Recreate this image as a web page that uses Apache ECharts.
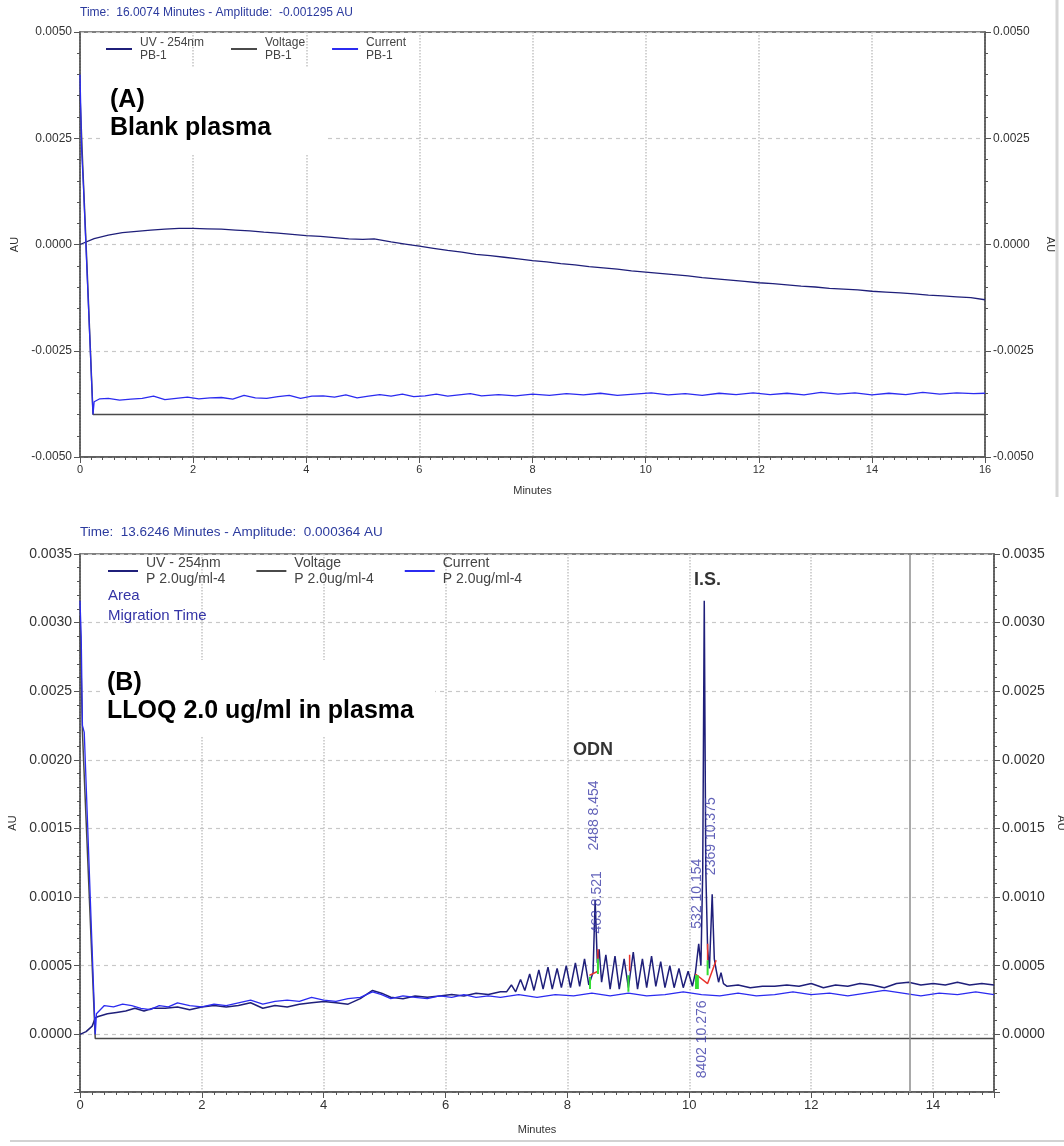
<!DOCTYPE html>
<html>
<head>
<meta charset="utf-8">
<title>Electropherogram</title>
<script src="https://cdn.jsdelivr.net/npm/echarts@6/dist/echarts.min.js"></script>
<style>
html, body { margin: 0; padding: 0; background: #fff; }
#main { width: 1064px; height: 1146px; }
</style>
</head>
<body>
<div id="main"></div>
<script>
//图A：空白血浆
var uvA = [[0,0],[0.25,0.00014],[0.5,0.00022],[0.75,0.00028],[1,0.00031],[1.25,0.00034],[1.5,0.00036],[1.75,0.00038],
  [2,0.00038],[2.25,0.00037],[2.5,0.00036],[2.75,0.00034],[3,0.00032],[3.25,0.00029],[3.5,0.00027],[3.75,0.00024],
  [4,0.00021],[4.25,0.00019],[4.5,0.00016],[4.75,0.00013],[5,0.00012],[5.2,0.00013],[5.5,0.00006],[5.75,0.00001],
  [6,-0.00004],[6.25,-0.00009],[6.5,-0.00014],[6.75,-0.00018],[7,-0.00023],[7.25,-0.00026],[7.5,-0.0003],[7.75,-0.00034],
  [8,-0.00038],[8.25,-0.00041],[8.5,-0.00045],[8.75,-0.00048],[9,-0.00052],[9.25,-0.00055],[9.5,-0.00058],[9.75,-0.00062],
  [10,-0.00065],[10.25,-0.00068],[10.5,-0.00071],[10.75,-0.00074],[11,-0.00078],[11.25,-0.00081],[11.5,-0.00084],[11.75,-0.00087],
  [12,-0.0009],[12.25,-0.00092],[12.5,-0.00095],[12.75,-0.00098],[13,-0.001],[13.25,-0.00103],[13.5,-0.00105],[13.75,-0.00107],
  [14,-0.0011],[14.25,-0.00112],[14.5,-0.00114],[14.75,-0.00116],[15,-0.00119],[15.25,-0.00121],[15.5,-0.00123],[15.75,-0.00125],[16,-0.0013]];
var voltageA = [[0,0.0035],[0.05,0.0018],[0.12,-0.0004],[0.23,-0.004],[16,-0.004]];
var currentA = [[0,0.004],[0.03,0.0022],[0.06,0.0014],[0.23,-0.004],[0.25,-0.0037],[0.35,-0.00363],[0.5,-0.00362],[0.7,-0.00366],
  [0.9,-0.00364],[1.1,-0.00362],[1.3,-0.00357],[1.5,-0.00365],[1.7,-0.00362],[1.9,-0.00359],[2.1,-0.00363],[2.3,-0.00361],
  [2.5,-0.0036],[2.7,-0.00364],[2.9,-0.00355],[3.1,-0.00361],[3.3,-0.00362],[3.5,-0.00358],[3.7,-0.00355],[3.9,-0.00362],
  [4.1,-0.00357],[4.3,-0.00356],[4.5,-0.00359],[4.7,-0.00354],[4.9,-0.00361],[5.1,-0.00357],[5.3,-0.00353],[5.5,-0.00357],
  [5.7,-0.00352],[5.9,-0.00358],[6.1,-0.00356],[6.3,-0.00352],[6.5,-0.00357],[6.7,-0.00354],[6.9,-0.00351],[7.1,-0.00356],
  [7.4,-0.00353],[7.7,-0.00356],[8,-0.00352],[8.3,-0.00355],[8.6,-0.00351],[8.9,-0.00354],[9.2,-0.0035],[9.5,-0.00355],
  [9.8,-0.00352],[10.1,-0.00349],[10.4,-0.00354],[10.7,-0.00351],[11,-0.00355],[11.3,-0.0035],[11.6,-0.00353],[11.9,-0.00349],
  [12.2,-0.00353],[12.5,-0.0035],[12.8,-0.00354],[13.1,-0.00348],[13.4,-0.00352],[13.7,-0.00349],[14,-0.00354],[14.3,-0.0035],
  [14.6,-0.00353],[14.9,-0.00348],[15.2,-0.00352],[15.5,-0.00349],[15.8,-0.00351],[16,-0.0035]];

//图B：LLOQ 2.0 ug/ml
var uvB = [[0,0],[0.1,0.00002],[0.2,0.00006],[0.25,0.00012],[0.3,0.00013],[0.45,0.00015],[0.6,0.00016],[0.75,0.00017],
  [0.9,0.00019],[1.05,0.00017],[1.2,0.00019],[1.4,0.00019],[1.6,0.0002],[1.8,0.00018],[2,0.0002],[2.2,0.00021],
  [2.4,0.0002],[2.6,0.00021],[2.8,0.00023],[3,0.00019],[3.2,0.00021],[3.4,0.0002],[3.6,0.00022],[3.8,0.00023],
  [4,0.00024],[4.2,0.00023],[4.4,0.00022],[4.6,0.00026],[4.8,0.00032],[4.95,0.0003],[5.1,0.00027],[5.3,0.00026],
  [5.5,0.00028],[5.7,0.00027],[5.9,0.00028],[6.1,0.00029],[6.3,0.00028],[6.5,0.0003],[6.7,0.00029],[6.9,0.00031],
  [7,0.00031],[7.08,0.00036],[7.15,0.00031],[7.23,0.0004],[7.3,0.00032],[7.38,0.00044],[7.45,0.00032],[7.53,0.00047],
  [7.6,0.00033],[7.68,0.00049],[7.75,0.00033],[7.83,0.00048],[7.9,0.00034],[7.98,0.0005],[8.05,0.00034],[8.13,0.00052],
  [8.2,0.00035],[8.28,0.00055],[8.35,0.00036],[8.42,0.00045],[8.454,0.00098],[8.49,0.00052],[8.52,0.00062],[8.56,0.00038],
  [8.63,0.00058],[8.7,0.00033],[8.78,0.00057],[8.85,0.00033],[8.93,0.00055],[9,0.00034],[9.08,0.0006],[9.15,0.00033],
  [9.23,0.00055],[9.3,0.00034],[9.38,0.00057],[9.45,0.00035],[9.53,0.00053],[9.6,0.00034],[9.68,0.0005],[9.75,0.00034],
  [9.83,0.00048],[9.9,0.00034],[9.98,0.00046],[10.05,0.00035],[10.1,0.00045],[10.154,0.00066],[10.19,0.0005],[10.22,0.0012],
  [10.245,0.00316],[10.27,0.0012],[10.3,0.00062],[10.33,0.00048],[10.375,0.00102],[10.41,0.00055],[10.44,0.00047],[10.48,0.00038],
  [10.52,0.00045],[10.56,0.00037],[10.62,0.00035],[10.8,0.00036],[11,0.00034],[11.2,0.00035],[11.4,0.00035],[11.6,0.00036],
  [11.8,0.00035],[12,0.00037],[12.2,0.00034],[12.4,0.00036],[12.6,0.00035],[12.8,0.00037],[13,0.00036],[13.2,0.00034],
  [13.4,0.00037],[13.6,0.00038],[13.8,0.00036],[14,0.00037],[14.2,0.00036],[14.4,0.00038],[14.6,0.00036],[14.8,0.00037],[15,0.00036]];
var voltageB = [[0,0.00305],[0.04,0.0022],[0.25,-0.00003],[15,-0.00003]];
var currentB = [[0,0.00316],[0.02,0.0029],[0.04,0.00225],[0.07,0.0022],[0.25,0],[0.27,0.00015],[0.3,0.00016],[0.4,0.00021],
  [0.55,0.0002],[0.7,0.00022],[0.85,0.00021],[1,0.00019],[1.15,0.00018],[1.3,0.00021],[1.45,0.0002],[1.6,0.00023],
  [1.8,0.00021],[2,0.0002],[2.2,0.00022],[2.4,0.00021],[2.6,0.00023],[2.8,0.00025],[3,0.00022],[3.2,0.00024],
  [3.4,0.00025],[3.6,0.00024],[3.8,0.00027],[4,0.00025],[4.2,0.00024],[4.4,0.00026],[4.6,0.00027],[4.8,0.00031],
  [4.95,0.00029],[5.1,0.00026],[5.3,0.00028],[5.5,0.00027],[5.7,0.00026],[5.9,0.00028],[6.1,0.00027],[6.3,0.00029],
  [6.5,0.00027],[6.7,0.00028],[6.9,0.00027],[7.2,0.00029],[7.5,0.00027],[7.8,0.00029],[8.1,0.00028],[8.4,0.0003],
  [8.7,0.00028],[9,0.0003],[9.3,0.00028],[9.6,0.00029],[9.9,0.00031],[10.2,0.00029],[10.5,0.00028],[10.8,0.0003],
  [11.1,0.00028],[11.4,0.00029],[11.7,0.00031],[12,0.00029],[12.3,0.0003],[12.6,0.00028],[12.9,0.0003],[13.2,0.00032],
  [13.5,0.0003],[13.8,0.00028],[14.1,0.0003],[14.4,0.00029],[14.7,0.00031],[15,0.00029]];
//积分基线与起止标记
var integRed = [[8.36,0.00043],[8.5,0.00046],['-','-'],[8.5,0.00047],[8.5,0.00062],['-','-'],[9.02,0.00046],[9.02,0.00058],['-','-'],
  [10.1,0.00044],[10.3,0.00037],[10.44,0.00054],['-','-'],[10.3,0.00054],[10.3,0.00066]];
var integGreen = [[8.37,0.00033],[8.37,0.00042],['-','-'],[8.5,0.00044],[8.5,0.00055],['-','-'],[9,0.00031],[9,0.00043],['-','-'],
  [10.11,0.00033],[10.11,0.00043],['-','-'],[10.14,0.00033],[10.14,0.00043],['-','-'],[10.3,0.00043],[10.3,0.00054]];
//峰标注（面积 迁移时间）
var peakNoteText = ['2488 8.454', '463 8.521', '532 10.154', '2369 10.375', '8402 10.276'];
var peakNoteTime = [8.44, 8.48, 10.13, 10.36, 10.21];
var peakNoteLevel = [0.00134, 0.000735, 0.00077, 0.00116, -0.00032];
var peakNames = ['ODN', 'I.S.'];
var peakNameTime = [8.42, 10.3];
var peakNameLevel = [0.00207, 0.00331];
var cursorB = 13.6246;

var namesA = ['UV - 254nm\nPB-1', 'Voltage\nPB-1', 'Current\nPB-1'];
var namesB = ['UV - 254nm\nP 2.0ug/ml-4', 'Voltage\nP 2.0ug/ml-4', 'Current\nP 2.0ug/ml-4'];
var colUV = '#1f1f7a', colVolt = '#4a4a4a', colCur = '#2b2bf0';
var FONT = 'Liberation Sans, Arial, sans-serif';

(function() {
	var chart = echarts.init(document.getElementById('main'));

	function xAxis(grid, max, fs, gap) {
		return {
			gridIndex: grid, type: 'value', min: 0, max: max, interval: 2,
			name: 'Minutes', nameLocation: 'middle', nameGap: gap,
			nameTextStyle: { fontSize: 11, color: '#333', fontFamily: FONT },
			axisLine: { onZero: false, lineStyle: { color: '#555', width: 1.5 } },
			axisTick: { length: 6, lineStyle: { color: '#555' } },
			minorTick: { show: true, splitNumber: 10, length: 3, lineStyle: { color: '#555' } },
			axisLabel: { fontSize: fs, color: '#333', fontFamily: FONT, margin: 7,
				formatter: function(v) { return v % 2 === 0 ? String(v) : ''; } },
			splitLine: { show: true, lineStyle: { color: '#c4c4c4', type: 'dotted', width: 1.5 } }
		};
	}
	function yAxis(grid, right, fs, extra) {
		var ax = {
			gridIndex: grid, type: 'value', position: right ? 'right' : 'left',
			name: 'AU', nameLocation: 'middle', nameGap: 56, nameRotate: right ? -90 : 90,
			nameTextStyle: { fontSize: 11, color: '#333', fontFamily: FONT },
			axisLine: { show: true, onZero: false, lineStyle: { color: '#555', width: 1.5 } },
			axisTick: { length: 6, lineStyle: { color: '#555' } },
			minorTick: { show: true, splitNumber: 5, length: 3, lineStyle: { color: '#555' } },
			axisLabel: { fontSize: fs, color: '#333', fontFamily: FONT, margin: 8,
				formatter: function(v) { return v < -0.0001 && grid === 1 ? '' : v.toFixed(4); } },
			splitLine: { show: !right, lineStyle: { color: '#c8c8c8', type: [4, 4], width: 1.2 } }
		};
		for (var k in extra) ax[k] = extra[k];
		return ax;
	}
	function line(name, data, color, xi, width) {
		return { name: name, type: 'line', xAxisIndex: xi, yAxisIndex: xi * 2, data: data,
			showSymbol: false, symbol: 'none', animation: false,
			lineStyle: { color: color, width: width }, itemStyle: { color: color } };
	}

	var rangeA = { min: -0.005, max: 0.005, interval: 0.0025 };
	var rangeB = { min: -0.00042, max: 0.0035, splitNumber: 8 };

	var voltB = line(namesB[1], voltageB, colVolt, 1, 1.5);
	voltB.markLine = { symbol: 'none', silent: true, label: { show: false },
		lineStyle: { color: '#8c8c8c', type: 'solid', width: 1.5 }, data: [{ xAxis: cursorB }] };

	var notes = [];
	for (var i = 0; i < peakNoteText.length; i++) {
		notes.push({ value: [peakNoteTime[i], peakNoteLevel[i]], label: { formatter: peakNoteText[i] } });
	}
	var names = [];
	for (var j = 0; j < peakNames.length; j++) {
		names.push({ value: [peakNameTime[j], peakNameLevel[j]], label: { formatter: peakNames[j] } });
	}

	chart.setOption({
		animation: false,
		backgroundColor: '#fff',
		grid: [
			{ left: 80, right: 79, top: 32, height: 425, show: true, borderColor: '#555', borderWidth: 1.5,
				backgroundColor: '#fff', outerBoundsMode: 'none' },
			{ left: 80, right: 70, top: 554, height: 538, show: true, borderColor: '#555', borderWidth: 1.5,
				backgroundColor: '#fff', outerBoundsMode: 'none' }
		],
		legend: [
			{ left: 106, top: 36, padding: 0, icon: 'rect', itemWidth: 26, itemHeight: 2, itemGap: 27, data: namesA,
				textStyle: { fontSize: 12, lineHeight: 13, color: '#444', fontFamily: FONT, padding: [0, 0, 0, 3] } },
			{ left: 108, top: 555, padding: 0, icon: 'rect', itemWidth: 30, itemHeight: 2, itemGap: 31, data: namesB,
				textStyle: { fontSize: 14, lineHeight: 16, color: '#444', fontFamily: FONT, padding: [0, 0, 0, 3] } }
		],
		xAxis: [xAxis(0, 16, 11, 28), xAxis(1, 15, 13, 32)],
		yAxis: [yAxis(0, false, 12, rangeA), yAxis(0, true, 12, rangeA), yAxis(1, false, 14, rangeB), yAxis(1, true, 14, rangeB)],
		series: [
			line(namesA[0], uvA, colUV, 0, 1.3),
			line(namesA[1], voltageA, colVolt, 0, 1.5),
			line(namesA[2], currentA, colCur, 0, 1.3),
			line(namesB[0], uvB, colUV, 1, 1.5),
			voltB,
			line(namesB[2], currentB, colCur, 1, 1.3),
			{ type: 'line', xAxisIndex: 1, yAxisIndex: 2, data: integRed, symbol: 'none', connectNulls: false,
				lineStyle: { color: '#e8342c', width: 1.5 }, z: 4 },
			{ type: 'line', xAxisIndex: 1, yAxisIndex: 2, data: integGreen, symbol: 'none', connectNulls: false,
				lineStyle: { color: '#33dd33', width: 2 }, z: 4 },
			{ type: 'scatter', xAxisIndex: 1, yAxisIndex: 2, data: notes, symbolSize: 0, z: 5,
				label: { show: true, position: 'inside', rotate: 90, align: 'left', verticalAlign: 'middle',
					fontSize: 14, color: '#3b3ba8', fontFamily: FONT } },
			{ type: 'scatter', xAxisIndex: 1, yAxisIndex: 2, data: names, symbolSize: 0, z: 5,
				label: { show: true, position: 'inside', fontSize: 18, fontWeight: 'bold', color: '#000',
					textBorderWidth: 0, fontFamily: FONT } }
		],
		graphic: [
			{ type: 'text', left: 80, top: 7, z: 5, style: { text: 'Time:  16.0074 Minutes - Amplitude:  -0.001295 AU', fill: '#2b3a9e', font: '12px ' + FONT } },
			{ type: 'rect', shape: { x: 100, y: 68, width: 228, height: 86 }, z: 1, style: { fill: '#fff' } },
			{ type: 'text', left: 110, top: 88, z: 5, style: { text: '(A)', fill: '#000', font: 'bold 25px ' + FONT } },
			{ type: 'text', left: 110, top: 116, z: 5, style: { text: 'Blank plasma', fill: '#000', font: 'bold 25px ' + FONT } },
			{ type: 'text', left: 80, top: 525, z: 5, style: { text: 'Time:  13.6246 Minutes - Amplitude:  0.000364 AU', fill: '#2b3a9e', font: '13.5px ' + FONT } },
			{ type: 'text', left: 108, top: 588, z: 5, style: { text: 'Area', fill: '#3434a6', font: '15px ' + FONT } },
			{ type: 'text', left: 108, top: 608, z: 5, style: { text: 'Migration Time', fill: '#3434a6', font: '15px ' + FONT } },
			{ type: 'rect', shape: { x: 100, y: 660, width: 335, height: 76 }, z: 1, style: { fill: '#fff' } },
			{ type: 'text', left: 107, top: 671, z: 5, style: { text: '(B)', fill: '#000', font: 'bold 25px ' + FONT } },
			{ type: 'text', left: 107, top: 699, z: 5, style: { text: 'LLOQ 2.0 ug/ml in plasma', fill: '#000', font: 'bold 25px ' + FONT } },
			{ type: 'line', shape: { x1: 1057, y1: 0, x2: 1057, y2: 497 }, z: 1, style: { stroke: '#d6d6d6', lineWidth: 3 } },
			{ type: 'line', shape: { x1: 10, y1: 1141, x2: 1064, y2: 1141 }, z: 1, style: { stroke: '#d2d2d2', lineWidth: 2 } }
		]
	});
})();
</script>
</body>
</html>
